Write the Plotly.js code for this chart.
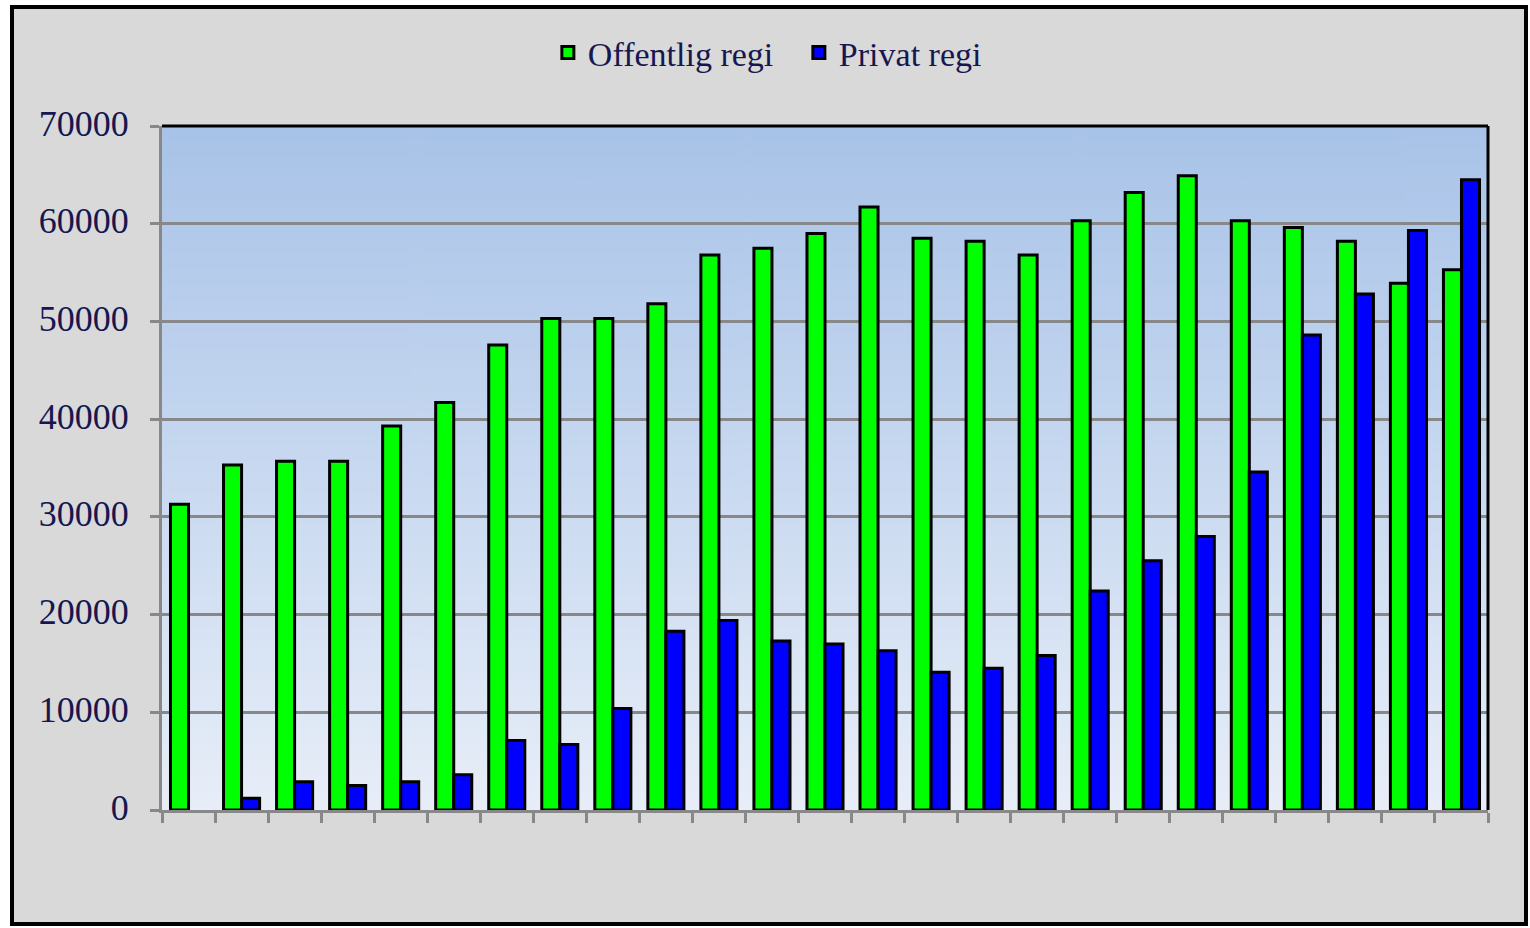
<!DOCTYPE html>
<html><head><meta charset="utf-8">
<script src="https://cdn.plot.ly/plotly-3.0.1.min.js"></script>
<style>
html,body{margin:0;padding:0;background:#fff;width:1530px;height:928px;overflow:hidden}
#chart{position:absolute;left:10px;top:5px;width:1518px;height:921px;box-sizing:border-box;border:4px solid #000;background:#d9d9d9}
</style></head><body><div id="chart"></div>
<script>
const categories = ["1","2","3","4","5","6","7","8","9","10","11","12","13","14","15","16","17","18","19","20","21","22","23","24","25"];
const seriesNames = ["Offentlig regi", "Privat regi"];
const offentlig = [31300,35300,35700,35700,39300,41700,47600,50300,50300,51800,56800,57500,59000,61700,58500,58200,56800,60300,63200,64900,60300,59600,58200,53900,55300];
const privat = [null,1200,2900,2500,2900,3600,7100,6700,10400,18300,19400,17300,17000,16300,14100,14500,15800,22400,25500,28000,34600,48600,52800,59300,64500];
const yTickVals = [0,10000,20000,30000,40000,50000,60000,70000];
const yTickText = ["0","10000","20000","30000","40000","50000","60000","70000"];

// gradient for the plot background
const cv = document.createElement('canvas');
cv.width = 8; cv.height = 256;
const cx = cv.getContext('2d');
const g = cx.createLinearGradient(0,0,0,256);
g.addColorStop(0,'#a8c3e8');
g.addColorStop(1,'#e8eef8');
cx.fillStyle = g; cx.fillRect(0,0,8,256);
const bgUrl = cv.toDataURL('image/png');

const fontFam = '"Liberation Serif", "Times New Roman", serif';
const textColor = '#161650';

const traces = [
  {type:'bar', name:seriesNames[0], x:categories, y:offentlig,
   marker:{color:'#00ff00', line:{color:'#000', width:3}}},
  {type:'bar', name:seriesNames[1], x:categories, y:privat,
   marker:{color:'#0000ff', line:{color:'#000', width:3}}}
];

const layout = {
  width:1510, height:913,
  margin:{l:148, r:36, t:117, b:112, pad:0},
  paper_bgcolor:'#d9d9d9',
  plot_bgcolor:'rgba(0,0,0,0)',
  barmode:'group', bargap:0.32, bargroupgap:0,
  font:{family:fontFam, color:textColor, size:34},
  showlegend:true,
  legend:{orientation:'h', x:0.291, xanchor:'left', y:1.107, yanchor:'middle',
          entrywidth:206, entrywidthmode:'pixels',
          bgcolor:'rgba(0,0,0,0)', font:{family:fontFam, size:34, color:textColor},
          itemclick:false, traceorder:'normal'},
  xaxis:{type:'category', showticklabels:false, tickson:'boundaries', ticks:'outside',
         ticklen:10, tickwidth:3, tickcolor:'#888', showgrid:false, showline:true,
         linecolor:'#888', linewidth:3, zeroline:false, fixedrange:true},
  yaxis:{range:[0,70000], tickvals:yTickVals, ticktext:yTickText, ticks:'outside',
         ticklen:9, tickwidth:3, tickcolor:'#888', showgrid:true, gridcolor:'#888',
         gridwidth:3, showline:true, linecolor:'#888', linewidth:3, zeroline:false,
         ticklabelstandoff:14, ticklabelshift:-3,
         tickfont:{family:fontFam, size:36, color:textColor}, fixedrange:true},
  images:[{source:bgUrl, xref:'paper', yref:'paper', x:0, y:1, sizex:1, sizey:1,
           sizing:'stretch', layer:'below', xanchor:'left', yanchor:'top'}],
  shapes:[
    {type:'line', xref:'paper', yref:'paper', x0:0, x1:1, y0:1, y1:1, line:{color:'#000', width:3}},
    {type:'line', xref:'paper', yref:'paper', x0:1, x1:1, y0:0, y1:1, line:{color:'#000', width:3}}
  ]
};

Plotly.newPlot('chart', traces, layout, {displayModeBar:false, staticPlot:true});
</script></body></html>
